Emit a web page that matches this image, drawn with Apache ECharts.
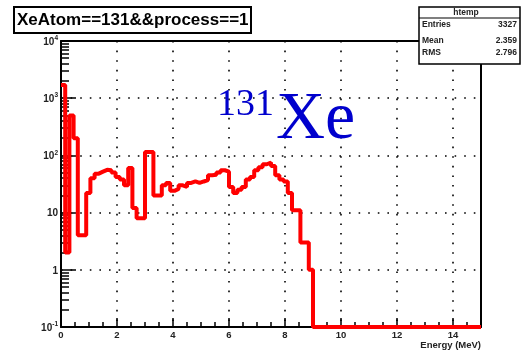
<!DOCTYPE html>
<html><head><meta charset="utf-8">
<script src="https://cdn.jsdelivr.net/npm/echarts@6/dist/echarts.min.js"></script>
<style>html,body{margin:0;padding:0;background:#fff}#c{width:521px;height:356px}</style>
</head><body><div id="c"></div>
<script>
// ---- data ----
const titleText = 'XeAtom==131&&process==1';
const xAxisName = 'Energy (MeV)';
const xMin = 0, xMax = 15, binWidth = 0.15;
const xTicks = [0, 2, 4, 6, 8, 10, 12, 14];
const yTicks = [0.1, 1, 10, 100, 1000, 10000];
const yTickLabels = [['10', '-1'], ['1', ''], ['10', ''], ['10', '2'], ['10', '3'], ['10', '4']];
const counts = [
  1700, 2, 500, 200, 4, 4, 22, 40, 48, 52,
  56, 55, 50, 42, 38, 30, 60, 12, 8, 8,
  115, 115, 20, 20, 30, 33, 24, 26, 30, 28,
  33, 35, 33, 35, 37, 45, 46, 50, 55, 52,
  28, 22, 25, 28, 38, 42, 55, 62, 70, 75,
  65, 45, 38, 35, 22, 11, 11, 3, 3, 1,
  0, 0, 0, 0, 0, 0, 0, 0, 0, 0,
  0, 0, 0, 0, 0, 0, 0, 0, 0, 0,
  0, 0, 0, 0, 0, 0, 0, 0, 0, 0,
  0, 0, 0, 0, 0, 0, 0, 0, 0, 0
];
const statsName = 'htemp';
const statsRows = [['Entries', '3327'], ['Mean', '2.359'], ['RMS', '2.796']];
const annotationSup = '131';
const annotationMain = 'Xe';

// ---- build ----
const yMin = yTicks[0], yMax = yTicks[yTicks.length - 1];
const lineData = counts.map((c, i) => [xMin + i * binWidth, c > 0 ? c : yMin]);
lineData.push([xMin + counts.length * binWidth, counts[counts.length - 1] > 0 ? counts[counts.length - 1] : yMin]);
const yMinor = [];
for (let d = 0; d < yTicks.length - 1; d++) for (let k = 2; k <= 9; k++) yMinor.push(+(yTicks[d] * k).toPrecision(3));

const font = 'Liberation Sans, Arial, sans-serif';
const chart = echarts.init(document.getElementById('c'), null, {renderer: 'canvas'});
const dotted = {color: '#000', width: 1.6, type: [1.6, 8]};
chart.setOption({
  animation: false,
  backgroundColor: '#fff',
  title: {
    text: titleText, left: 14, top: 7, padding: [3, 3, 3, 3],
    borderColor: '#000', borderWidth: 2,
    textStyle: {fontFamily: font, fontSize: 17, fontWeight: 'bold', color: '#000', lineHeight: 20}
  },
  grid: {left: 61, top: 41, right: 40, bottom: 29, containLabel: false},
  xAxis: [{
    type: 'value', min: xMin, max: xMax, interval: 2, position: 'bottom',
    name: xAxisName, nameLocation: 'end', nameGap: 0,
    nameTextStyle: {fontFamily: font, fontSize: 9.5, fontWeight: 'bold', color: '#222', align: 'right', verticalAlign: 'top', padding: [13, 0, 0, 0]},
    axisLine: {onZero: false, lineStyle: {color: '#000', width: 2}},
    axisTick: {inside: true, length: 9, lineStyle: {color: '#000', width: 1.5}},
    minorTick: {show: true, splitNumber: 4, length: 5, lineStyle: {color: '#000', width: 1.5}},
    axisLabel: {showMaxLabel: false, margin: 3, fontFamily: font, fontSize: 9.5, fontWeight: 'bold', color: '#222',
      formatter: v => xTicks.indexOf(v) >= 0 ? String(v) : ''},
    splitLine: {show: true, lineStyle: dotted}
  }, {
    type: 'value', min: xMin, max: xMax, position: 'top',
    axisLine: {show: true, onZero: false, lineStyle: {color: '#000', width: 2}},
    axisTick: {show: false}, axisLabel: {show: false}, splitLine: {show: false}
  }],
  yAxis: [{
    type: 'log', logBase: 10, min: yMin, max: yMax, position: 'left',
    axisLine: {show: true, onZero: false, lineStyle: {color: '#000', width: 2}},
    axisTick: {show: true, inside: true, length: 15, lineStyle: {color: '#000', width: 1.5}},
    axisLabel: {margin: 3, fontFamily: font, fontSize: 10, fontWeight: 'bold', color: '#222',
      formatter: v => {
        const i = yTicks.findIndex(t => Math.abs(t - v) / t < 1e-6);
        if (i < 0) return '';
        const [b, s] = yTickLabels[i];
        return s ? '{b|' + b + '}{s|' + s + '}' : '{b|' + b + '}';
      },
      rich: {
        b: {fontFamily: font, fontSize: 10, fontWeight: 'bold', color: '#222', lineHeight: 12, verticalAlign: 'bottom'},
        s: {fontFamily: font, fontSize: 6.5, fontWeight: 'bold', color: '#222', lineHeight: 12, verticalAlign: 'top', padding: [0, 0, 5, 0]}
      }},
    splitLine: {show: true, lineStyle: dotted}
  }, {
    type: 'log', logBase: 10, min: yMin, max: yMax, position: 'left',
    axisLine: {show: false},
    axisTick: {show: true, inside: true, length: 8, customValues: yMinor, lineStyle: {color: '#000', width: 1.5}},
    axisLabel: {show: false}, splitLine: {show: false}
  }, {
    type: 'log', logBase: 10, min: yMin, max: yMax, position: 'right',
    axisLine: {show: true, onZero: false, lineStyle: {color: '#000', width: 2}},
    axisTick: {show: false}, axisLabel: {show: false}, splitLine: {show: false}
  }],
  series: [{
    type: 'line', step: 'end', data: lineData, xAxisIndex: 0, yAxisIndex: 0,
    showSymbol: false, symbol: 'none', clip: false, z: 5,
    lineStyle: {color: '#ff0000', width: 4}
  }],
  graphic: [
    {type: 'rect', z: 10, shape: {x: 419, y: 7, width: 101, height: 57}, style: {fill: '#fff', stroke: '#000', lineWidth: 1.5}},
    {type: 'line', z: 11, shape: {x1: 419, y1: 18, x2: 520, y2: 18}, style: {stroke: '#000', lineWidth: 1.2}},
    {type: 'text', z: 11, x: 466, y: 12.5, style: {text: statsName, font: 'bold 8.5px ' + font, fill: '#222', align: 'center', verticalAlign: 'middle'}},
    {type: 'text', z: 11, x: 422, y: 25, style: {text: statsRows[0][0], font: 'bold 8.5px ' + font, fill: '#222', verticalAlign: 'middle'}},
    {type: 'text', z: 11, x: 517, y: 25, style: {text: statsRows[0][1], font: 'bold 8.5px ' + font, fill: '#222', align: 'right', verticalAlign: 'middle'}},
    {type: 'text', z: 11, x: 422, y: 41, style: {text: statsRows[1][0], font: 'bold 8.5px ' + font, fill: '#222', verticalAlign: 'middle'}},
    {type: 'text', z: 11, x: 517, y: 41, style: {text: statsRows[1][1], font: 'bold 8.5px ' + font, fill: '#222', align: 'right', verticalAlign: 'middle'}},
    {type: 'text', z: 11, x: 422, y: 53, style: {text: statsRows[2][0], font: 'bold 8.5px ' + font, fill: '#222', verticalAlign: 'middle'}},
    {type: 'text', z: 11, x: 517, y: 53, style: {text: statsRows[2][1], font: 'bold 8.5px ' + font, fill: '#222', align: 'right', verticalAlign: 'middle'}},
    {type: 'text', z: 12, x: 217, y: 105, style: {text: annotationSup, font: '38px "Liberation Serif", "Times New Roman", serif', fill: '#0000cd', verticalAlign: 'middle'}},
    {type: 'text', z: 12, x: 276, y: 120, style: {text: annotationMain, font: '68px "Liberation Serif", "Times New Roman", serif', fill: '#0000cd', verticalAlign: 'middle'}}
  ]
});
</script>
</body></html>
